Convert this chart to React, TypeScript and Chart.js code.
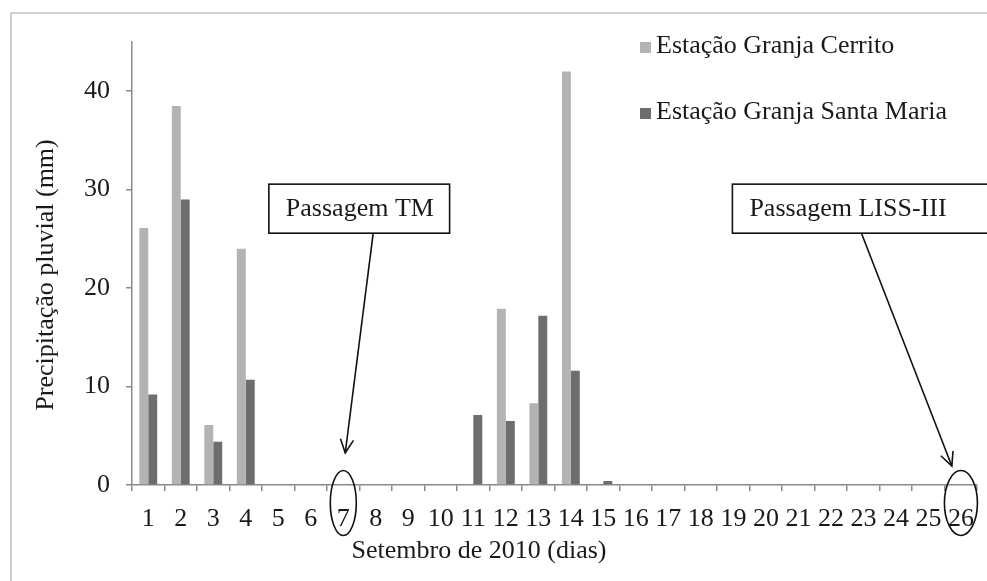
import React, { useEffect, useRef } from 'react';
import { Chart, registerables } from 'chart.js';

Chart.register(...registerables);

// ---- data ----
const days = ['1', '2', '3', '4', '5', '6', '7', '8', '9', '10', '11', '12', '13', '14', '15', '16', '17', '18', '19', '20', '21', '22', '23', '24', '25', '26'];
const cerrito = [26.1, 38.5, 6.1, 24.0, 0, 0, 0, 0, 0, 0, 0, 17.9, 8.3, 42.0, 0, 0, 0, 0, 0, 0, 0, 0, 0, 0, 0, 0];
const santaMaria = [9.2, 29.0, 4.4, 10.7, 0, 0, 0, 0, 0, 0, 7.1, 6.5, 17.2, 11.6, 0.4, 0, 0, 0, 0, 0, 0, 0, 0, 0, 0, 0];
const seriesLabels = ['Estação Granja Cerrito', 'Estação Granja Santa Maria'];
const seriesColors = ['#b3b3b3', '#6d6d6d'];
const yTicks = [0, 10, 20, 30, 40];
const yMax = 45;
const xTitle = 'Setembro de 2010 (dias)';
const yTitle = 'Precipitação pluvial (mm)';
const passLabels = ['Passagem TM', 'Passagem LISS-III'];
const passDays = ['7', '26'];

const FONT = '"Liberation Serif", "Times New Roman", serif';
const TEXT = '#1a1a1a';
const AXIS = '#8a8a8a';
const FS = 26;

const framePlugin = {
  id: 'frame',
  beforeDraw(chart: any) {
    const ctx = chart.ctx;
    ctx.save();
    ctx.fillStyle = '#ffffff';
    ctx.fillRect(0, 0, chart.width, chart.height);
    ctx.strokeStyle = '#cfcfcf';
    ctx.lineWidth = 2;
    ctx.strokeRect(11, 13, chart.width + 20, chart.height + 20);
    ctx.restore();
  },
};

const customLegend = {
  id: 'customLegend',
  afterDraw(chart: any) {
    const ctx = chart.ctx;
    ctx.save();
    ctx.font = `${FS}px ${FONT}`;
    ctx.textBaseline = 'middle';
    ctx.textAlign = 'left';
    chart.data.datasets.forEach((ds: any, i: number) => {
      const cy = 46 + i * 66;
      ctx.fillStyle = ds.backgroundColor;
      ctx.fillRect(640, cy - 4, 11, 11);
      ctx.fillStyle = TEXT;
      ctx.fillText(ds.label, 656, cy);
    });
    ctx.restore();
  },
};

const titlesPlugin = {
  id: 'axisTitles',
  afterDraw(chart: any) {
    const ctx = chart.ctx;
    ctx.save();
    ctx.font = `${FS}px ${FONT}`;
    ctx.fillStyle = TEXT;
    ctx.textAlign = 'center';
    ctx.textBaseline = 'middle';
    ctx.fillText(xTitle, 479, 551);
    ctx.translate(46, 275);
    ctx.rotate(-Math.PI / 2);
    ctx.fillText(yTitle, 0, 0);
    ctx.restore();
  },
};

const annotations = {
  id: 'annotations',
  afterDraw(chart: any) {
    const ctx = chart.ctx;
    const xs = chart.scales.x;
    const ys = chart.scales.y;
    const area = chart.chartArea;
    const px = (v: number) => xs.getPixelForValue(v);
    const py = (v: number) => ys.getPixelForValue(v);
    ctx.save();
    ctx.strokeStyle = '#111';
    ctx.lineWidth = 1.6;
    const boxes = [
      { from: 3.71, to: 9.27, text: passLabels[0] },
      { from: 17.97, to: 26.5, text: passLabels[1] },
    ];
    const boxTop = py(30.56);
    const boxBot = py(25.58);
    boxes.forEach((b) => {
      const x0 = px(b.from);
      const x1 = px(b.to);
      ctx.fillStyle = '#fff';
      ctx.fillRect(x0, boxTop, x1 - x0, boxBot - boxTop);
      ctx.strokeRect(x0, boxTop, x1 - x0, boxBot - boxTop);
      ctx.fillStyle = TEXT;
      ctx.font = `${FS}px ${FONT}`;
      ctx.textAlign = 'left';
      ctx.textBaseline = 'middle';
      ctx.fillText(b.text, x0 + 17, (boxTop + boxBot) / 2 + 1);
    });
    const arrows = [
      { x0: 6.92, x1: 6.06, y1: 3.25 },
      { x0: 21.94, x1: 24.72, y1: 1.93 },
    ];
    arrows.forEach((a) => {
      const sx = px(a.x0), sy = boxBot;
      const ex = px(a.x1), ey = py(a.y1);
      ctx.beginPath();
      ctx.moveTo(sx, sy);
      ctx.lineTo(ex, ey);
      ctx.stroke();
      const ang = Math.atan2(ey - sy, ex - sx);
      const L = 15, w = 0.45;
      ctx.beginPath();
      ctx.moveTo(ex - L * Math.cos(ang - w), ey - L * Math.sin(ang - w));
      ctx.lineTo(ex, ey);
      ctx.lineTo(ex - L * Math.cos(ang + w), ey - L * Math.sin(ang + w));
      ctx.stroke();
    });
    const rxs = [13, 16.5];
    passDays.forEach((d, i) => {
      const idx = days.indexOf(d);
      const cx = px(idx);
      const cy = area.bottom + 18;
      ctx.beginPath();
      ctx.ellipse(cx, cy, rxs[i], 32.5, 0, 0, Math.PI * 2);
      ctx.stroke();
    });
    ctx.restore();
  },
};

export default function App() {
  const ref = useRef<HTMLCanvasElement>(null);
  useEffect(() => {
    if (!ref.current) return;
    const chart = new Chart(ref.current, {
      type: 'bar',
      data: {
        labels: days,
        datasets: [
          { label: seriesLabels[0], data: cerrito, backgroundColor: seriesColors[0], borderWidth: 0, barPercentage: 1, categoryPercentage: 0.55 },
          { label: seriesLabels[1], data: santaMaria, backgroundColor: seriesColors[1], borderWidth: 0, barPercentage: 1, categoryPercentage: 0.55 },
        ],
      },
      options: {
        animation: false,
        responsive: false,
        devicePixelRatio: 1,
        layout: { padding: { top: 42, right: 4, left: 0, bottom: 0 } },
        plugins: { legend: { display: false }, tooltip: { enabled: false } },
        scales: {
          x: {
            type: 'category',
            grid: { display: true, drawOnChartArea: false, drawTicks: true, tickLength: 6, color: AXIS, offset: true, lineWidth: 1.5 },
            border: { color: AXIS, width: 1.5 },
            ticks: { font: { family: FONT, size: FS }, color: TEXT, padding: 13, maxRotation: 0, autoSkip: false },
            title: { display: false },
            afterFit: (s: any) => { s.height = 96; },
          },
          y: {
            min: 0,
            max: yMax,
            ticks: { stepSize: 10, font: { family: FONT, size: FS }, color: TEXT, padding: 16 },
            afterBuildTicks: (s: any) => { s.ticks = yTicks.map((v) => ({ value: v })); },
            grid: { display: true, drawOnChartArea: false, drawTicks: true, tickLength: 6, color: AXIS, lineWidth: 1.5 },
            border: { color: AXIS, width: 1.5 },
            afterFit: (s: any) => { s.width = 132; },
          },
        },
      } as any,
      plugins: [framePlugin, customLegend, titlesPlugin, annotations],
    });
    return () => chart.destroy();
  }, []);
  return (
    <div style={{ position: 'absolute', left: 0, top: 0, width: 987, height: 581 }}>
      <canvas ref={ref} width={987} height={581} style={{ display: 'block' }} />
    </div>
  );
}
